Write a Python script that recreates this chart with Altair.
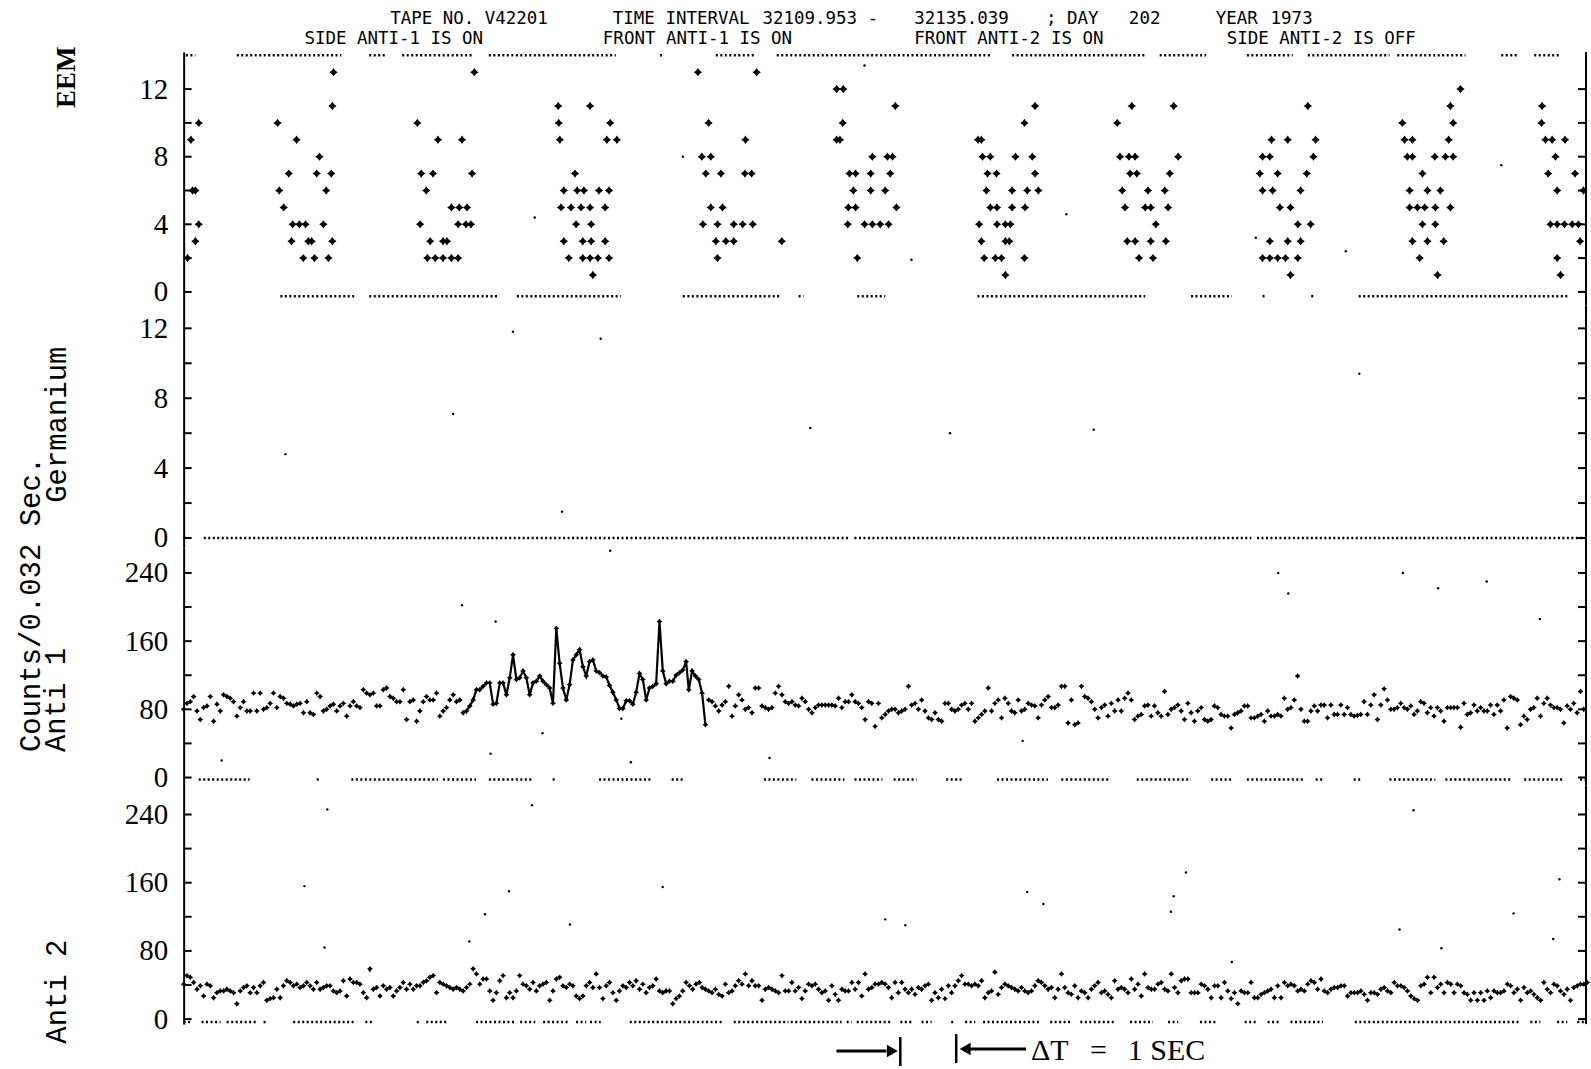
import altair as alt
import pandas as pd

# ---------------- data ----------------
T_END = 25.086          # seconds shown (32109.953 -> 32135.039)
DT = 0.05952            # spacing of plotted count samples, s

# EEM pulse-height events (time offset s, channel)
eem_t = [0.27, 0.13, 0.16, 0.21, 0.27, 0.21, 0.07,
         2.68, 2.66, 1.68, 2.02, 2.43, 1.88, 2.38, 2.64, 1.71, 2.55, 1.79, 1.95, 2.07, 2.18, 2.50, 1.93, 2.23, 2.29, 2.66, 2.14, 2.34, 2.59,
         5.20, 4.18, 4.55, 4.98, 4.25, 4.46, 5.16, 4.34, 4.79, 4.93, 5.07, 4.23, 4.91, 5.05, 5.14, 4.41, 4.64, 4.71, 4.36, 4.50, 4.64, 4.79, 4.91,
         6.70, 7.27, 6.71, 7.63, 6.73, 7.57, 7.75, 7.00, 6.80, 7.04, 7.16, 7.43, 7.61, 6.75, 6.93, 7.11, 7.27, 7.54, 7.02, 7.29, 6.80, 7.14, 7.29, 7.54, 6.89, 7.14, 7.27, 7.41, 7.61, 7.32,
         9.20, 10.25, 9.39, 10.05, 9.27, 9.43, 9.34, 9.61, 10.04, 10.16, 9.43, 9.64, 9.29, 9.55, 9.84, 10.00, 10.18, 9.52, 9.70, 9.84, 9.55, 10.70,
         11.68, 11.80, 12.73, 11.79, 11.68, 11.74, 12.32, 12.59, 12.68, 11.91, 12.02, 12.29, 12.64, 11.98, 12.29, 12.55, 11.89, 12.02, 12.75, 11.88, 12.18, 12.32, 12.46, 12.61, 12.05,
         15.23, 15.04, 14.21, 14.27, 14.29, 14.43, 14.88, 15.18, 14.38, 14.54, 15.23, 14.36, 14.82, 15.09, 15.29, 14.43, 14.55, 14.82, 15.05, 14.23, 14.55, 14.70, 14.79, 14.27, 14.70, 14.77, 14.32, 14.52, 14.63, 15.04, 14.70,
         16.96, 17.71, 16.70, 16.75, 16.91, 17.02, 17.79, 16.93, 17.05, 17.64, 16.79, 17.25, 17.55, 16.84, 17.20, 17.30, 17.61, 17.39, 16.88, 17.02, 17.30, 17.57, 17.09, 17.34,
         20.11, 19.46, 19.75, 20.25, 19.30, 19.43, 20.21, 19.25, 19.57, 20.09, 19.30, 19.48, 19.98, 19.61, 19.80, 19.93, 20.16, 19.43, 19.75, 19.98, 19.30, 19.43, 19.57, 19.71, 19.93, 19.80,
         22.84, 22.66, 21.80, 22.71, 21.84, 21.98, 22.63, 21.89, 21.98, 22.38, 22.57, 22.71, 22.16, 21.93, 22.25, 22.48, 21.93, 22.07, 22.20, 22.39, 22.66, 22.16, 22.39, 21.98, 22.25, 22.54, 22.11, 22.43,
         24.30, 24.29, 24.36, 24.48, 24.71, 24.54, 24.41, 24.89, 24.57, 25.04, 24.45, 24.57, 24.70, 24.84, 24.95, 24.98, 24.57, 24.63]
eem_v = [10, 9, 6, 6, 4, 3, 2,
         13, 11, 10, 9, 8, 7, 7, 7, 6, 6, 5, 4, 4, 4, 4, 3, 3, 3, 3, 2, 2, 2,
         13, 10, 9, 9, 7, 7, 7, 6, 5, 5, 5, 4, 4, 4, 4, 3, 3, 3, 2, 2, 2, 2, 2,
         11, 11, 10, 10, 9, 9, 9, 7, 6, 6, 6, 6, 6, 5, 5, 5, 5, 5, 4, 4, 3, 3, 3, 3, 2, 2, 2, 2, 2, 1,
         13, 13, 10, 9, 8, 8, 7, 7, 7, 7, 5, 5, 4, 4, 4, 4, 4, 3, 3, 3, 2, 3,
         12, 12, 11, 10, 9, 9, 8, 8, 8, 7, 7, 7, 7, 6, 6, 6, 5, 5, 5, 4, 4, 4, 4, 4, 2,
         11, 10, 9, 9, 8, 8, 8, 8, 7, 7, 7, 6, 6, 6, 6, 5, 5, 5, 5, 4, 4, 4, 4, 3, 3, 3, 2, 2, 2, 2, 1,
         11, 11, 10, 8, 8, 8, 8, 7, 7, 7, 6, 6, 6, 5, 5, 5, 5, 4, 3, 3, 3, 3, 2, 2,
         11, 9, 9, 9, 8, 8, 8, 7, 7, 7, 6, 6, 6, 5, 5, 4, 4, 3, 3, 3, 2, 2, 2, 2, 2, 1,
         12, 11, 10, 10, 9, 9, 9, 8, 8, 8, 8, 8, 7, 6, 6, 6, 5, 5, 5, 5, 5, 4, 4, 3, 3, 3, 2, 1,
         11, 10, 9, 9, 9, 8, 7, 7, 6, 6, 4, 4, 4, 4, 4, 3, 2, 1]
eem_stray_t = [6.28, 15.79, 23.57, 13.02, 19.18, 8.93, 12.18, 20.79]
eem_stray_v = [4.4, 4.6, 7.5, 1.9, 3.2, 8.0, 13.4, 2.4]
eem_top_level = 14.0
eem_top_runs = [[0.04, 0.21], [0.95, 2.82], [3.32, 3.64], [3.91, 5.18], [5.46, 7.73], [8.52, 8.60],
                [9.52, 10.20], [10.61, 14.46], [14.82, 17.20], [17.46, 18.29], [19.02, 19.84],
                [20.11, 21.57], [21.71, 22.93], [23.57, 23.86], [24.16, 24.63]]
eem_zero_level = -0.25
eem_zero_runs = [[1.73, 3.05], [3.32, 5.64], [5.96, 7.82], [8.93, 10.66], [11.0, 11.09], [12.05, 12.55],
                 [14.20, 17.20], [18.02, 18.75], [19.30, 19.38], [20.17, 20.25], [21.02, 24.77]]

# Germanium
ge_stray_t = [5.89, 7.46, 4.82, 1.82, 11.21, 13.71, 16.28, 21.03, 6.77]
ge_stray_v = [11.8, 11.4, 7.1, 4.8, 6.3, 6.0, 6.2, 9.4, 1.5]
ge_zero_level = 0.0
ge_zero_runs = [[0.0, 0.08], [0.36, 11.9], [12.0, 19.1], [19.2, 25.08]]

# Anti 1 counts, four stretches (start time of each stretch, values)
anti1_starts = [0.0, 7.5, 9.036, 17.07]
anti1_a = [80, 87, 89, 95, 78, 68, 82, 84, 95, 66, 86, 78, 97, 95, 93, 89, 72, 82, 89, 78,
           78, 99, 78, 99, 80, 82, 87, 99, 82, 95, 93, 87, 86, 84, 86, 87, 76, 89, 76, 74,
           99, 95, 78, 80, 84, 86, 78, 84, 87, 72, 84, 89, 84, 82, 103, 99, 97, 99, 84, 84,
           103, 105, 95, 93, 89, 89, 103, 68, 89, 91, 66, 78, 89, 95, 91, 91, 99, 72, 78, 82,
           91, 97, 89, 91, 76, 78, 84, 91, 103, 103, 107, 111, 111, 86, 87, 111, 111, 97, 117, 144,
           115, 117, 125, 117, 97, 111, 113, 119, 113, 109, 105, 87, 175, 134, 105, 91, 109, 138, 144, 150,
           130, 119, 136, 138, 125, 123]
anti1_b = [119, 118, 108, 100, 91, 81, 81, 90, 90, 86, 100, 122, 115, 91, 105, 107, 110, 183, 125, 110,
           113, 113, 120, 123, 126, 136]
anti1_c = [103, 125, 119, 115, 99, 62, 91, 89, 84, 78, 85, 89, 107, 72, 84, 97, 91, 80, 82, 76,
           105, 105, 84, 82, 80, 82, 99, 107, 97, 89, 87, 89, 85, 84, 93, 89, 80, 76, 82, 85,
           85, 85, 85, 85, 84, 93, 82, 89, 89, 97, 89, 87, 82, 68, 89, 87, 60, 87, 70, 74,
           78, 80, 80, 76, 78, 80, 107, 85, 87, 80, 91, 78, 70, 68, 76, 68, 66, 87, 87, 80,
           78, 80, 85, 87, 80, 87, 66, 70, 74, 78, 105, 78, 87, 91, 70, 93, 87, 78, 76, 91,
           78, 80, 87, 85, 84, 70, 85, 91, 95, 82, 82, 85, 107, 107, 64, 91, 62, 64, 107, 95,
           93, 89, 80, 70, 82, 85, 72, 87, 78, 91, 78, 93, 99, 91, 68]
anti1_d = [72, 74, 84, 85, 72, 84, 76, 72, 101, 74, 80, 82, 85, 78, 68, 87, 76, 66, 78, 82,
           68, 66, 68, 84, 82, 74, 72, 72, 58, 74, 76, 78, 84, 84, 70, 70, 72, 74, 66, 78,
           72, 72, 74, 72, 93, 80, 82, 91, 119, 80, 66, 66, 78, 84, 78, 85, 85, 70, 85, 74,
           74, 85, 74, 82, 74, 72, 73, 74, 89, 74, 85, 97, 68, 85, 104, 91, 80, 80, 82, 87,
           82, 80, 84, 74, 78, 89, 87, 76, 82, 72, 82, 78, 66, 82, 82, 82, 82, 59, 87, 74,
           76, 85, 78, 82, 78, 78, 85, 74, 85, 78, 91, 58, 95, 93, 91, 62, 72, 68, 80, 82,
           93, 72, 87, 93, 85, 82, 82, 80, 64, 84, 80, 87, 76, 101, 80]
anti1_line_span = [5.03, 9.36]
anti1_stray_t = [0.68, 4.98, 5.58, 5.49, 6.42, 7.83, 8.00, 10.48, 15.01, 19.58, 19.76, 21.81, 22.44, 23.31, 24.26, 7.63]
anti1_stray_v = [20, 202, 183, 28, 52, 69, 18, 23, 43, 240, 216, 240, 222, 230, 186, 266]
a1_zero_level = -2.3
a1_zero_runs = [[0.27, 1.18], [2.38, 2.45], [3.0, 4.55], [4.64, 5.23], [5.46, 6.23], [6.60, 6.68],
                [7.43, 8.38], [8.73, 8.93], [10.38, 10.96], [11.23, 11.82], [12.0, 12.5], [12.7, 13.11],
                [13.64, 13.96], [14.55, 15.46], [15.7, 16.55], [17.05, 18.02], [18.38, 18.75],
                [19.02, 20.02], [20.25, 20.39], [20.93, 21.07], [21.57, 22.39], [22.57, 23.75],
                [23.98, 24.68], [24.98, 25.08]]

# Anti 2 counts, three stretches
anti2_starts = [0.0, 9.274, 17.25]
anti2_a = [41, 51, 49, 43, 35, 39, 27, 41, 39, 25, 31, 33, 33, 35, 33, 31, 18, 33, 37, 39,
           31, 37, 31, 39, 43, 22, 24, 25, 35, 25, 39, 45, 43, 39, 41, 37, 39, 43, 39, 35,
           43, 35, 37, 39, 39, 33, 31, 33, 45, 27, 47, 43, 43, 41, 31, 25, 59, 35, 37, 27,
           39, 35, 37, 27, 33, 37, 43, 35, 41, 35, 39, 39, 43, 45, 49, 51, 31, 43, 41, 39,
           37, 35, 37, 35, 33, 37, 41, 59, 53, 41, 47, 47, 33, 22, 31, 45, 51, 25, 31, 25,
           33, 51, 41, 39, 35, 43, 33, 39, 41, 43, 22, 33, 47, 49, 39, 37, 41, 39, 27, 24,
           27, 39, 43, 37, 53, 37, 24, 39, 43, 31, 22, 33, 39, 37, 43, 39, 45, 35, 41, 31,
           37, 39, 47, 33, 31, 33, 33, 18, 24, 27, 33, 43, 39, 35, 41, 43]
anti2_b = [37, 35, 33, 31, 35, 29, 27, 41, 31, 33, 39, 45, 41, 53, 39, 45, 39, 39, 22, 35,
           37, 35, 33, 31, 51, 33, 33, 43, 33, 37, 24, 33, 41, 39, 41, 35, 31, 33, 22, 39,
           29, 22, 35, 33, 33, 43, 35, 43, 27, 53, 35, 37, 41, 41, 43, 41, 37, 25, 43, 31,
           43, 35, 31, 35, 29, 37, 35, 39, 41, 22, 31, 25, 35, 24, 39, 31, 39, 45, 51, 41,
           41, 39, 41, 39, 45, 25, 31, 33, 55, 29, 37, 41, 39, 37, 35, 33, 37, 33, 31, 33,
           39, 45, 43, 39, 35, 37, 25, 35, 53, 37, 31, 29, 39, 25, 33, 31, 25, 35, 39, 43,
           31, 33, 29, 25, 45, 35, 37, 35, 31, 47, 35, 41, 27, 53]
anti2_c = [37, 35, 35, 41, 43, 35, 33, 53, 37, 31, 45, 47, 47, 31, 31, 31, 41, 39, 35, 25,
           39, 39, 25, 43, 33, 24, 31, 18, 33, 31, 31, 43, 25, 25, 29, 31, 33, 35, 25, 39,
           25, 43, 39, 41, 39, 33, 35, 33, 41, 45, 43, 35, 47, 33, 31, 35, 37, 37, 39, 39,
           27, 31, 31, 31, 33, 29, 22, 31, 31, 29, 35, 37, 33, 31, 43, 39, 39, 37, 33, 27,
           24, 22, 39, 41, 49, 31, 49, 37, 41, 31, 43, 41, 31, 41, 39, 31, 29, 22, 31, 22,
           31, 22, 33, 25, 33, 31, 31, 33, 41, 39, 31, 35, 22, 37, 31, 33, 29, 25, 22, 43,
           35, 31, 41, 39, 33, 29, 35, 22, 37, 39, 41, 41, 43]
anti2_stray_t = [2.57, 6.23, 2.16, 5.82, 8.57, 5.39, 6.91, 5.11, 2.52, 3.33, 22.0, 17.93, 17.71, 17.66,
                 15.09, 15.38, 12.55, 12.91, 18.75, 24.61, 23.79, 24.5, 21.75, 22.5]
anti2_stray_v = [246, 251, 156, 150, 155, 123, 111, 91, 84, 57, 245, 172, 144, 126,
                 149, 135, 117, 110, 67, 164, 124, 94, 105, 83]
a2_zero_level = -3.5
a2_zero_runs = [[0.0, 0.13], [0.32, 0.66], [0.77, 1.30], [1.43, 1.49], [1.96, 3.04], [3.25, 3.39],
                [4.17, 4.23], [4.34, 4.70], [5.23, 5.95], [6.02, 6.29], [6.43, 6.91], [7.02, 7.20],
                [7.27, 7.46], [7.98, 9.66], [9.84, 10.82], [10.86, 11.77], [11.86, 11.95], [12.04, 12.66],
                [12.82, 13.02], [13.20, 13.38], [13.73, 13.80], [13.98, 14.16], [14.30, 15.34],
                [15.50, 15.88], [16.04, 16.66], [16.93, 17.34], [17.61, 17.79], [18.18, 18.50],
                [18.98, 19.21], [19.39, 19.63], [19.80, 20.38], [20.95, 23.91], [24.09, 24.27],
                [24.57, 24.75], [24.93, 25.08]]

# texts
header_line1 = ["TAPE NO.  V42201", "TIME INTERVAL", "32109.953 -", "32135.039", "; DAY", "202", "YEAR", "1973"]
header_line2 = ["SIDE ANTI-1 IS ON", "FRONT ANTI-1 IS ON", "FRONT ANTI-2 IS ON", "SIDE ANTI-2 IS OFF"]

# ---------------- styling / layout ----------------
W = 1405
STAR = "M0,-1L0.42,-0.42L1,0L0.42,0.42L0,1L-0.42,0.42L-1,0L-0.42,-0.42Z"
MONO = "DejaVu Sans Mono"
SERIF = "Liberation Serif"
TMONO = "Liberation Mono"


def series_df(starts, segs):
    rows = []
    for s0, seg in zip(starts, segs):
        for i, val in enumerate(seg):
            rows.append({"t": s0 + i * DT, "v": val})
    return pd.DataFrame(rows)


def runs_df(runs, level):
    return pd.DataFrame({"t": [r[0] for r in runs], "t2": [r[1] for r in runs], "v": [level] * len(runs)})


def one():
    return pd.DataFrame({"d": [0]})


def text_at(txt, x, y, font, size, weight="normal", align="left"):
    return alt.Chart(pd.DataFrame({"s": [txt]})).mark_text(
        align=align, baseline="alphabetic", font=font, fontSize=size,
        fontWeight=weight, color="black").encode(x=alt.value(x), y=alt.value(y), text="s:N")


def panel(h, dom, labels, ticks, title, tkw, pts=None, pt_size=30, runs=None, strays=None,
          line=None, extra=()):
    xs = alt.Scale(domain=[0, T_END], nice=False, zero=False)
    ys = alt.Scale(domain=dom, nice=False, zero=False)
    axis = alt.Axis(values=labels, ticks=False, tickSize=0, grid=False, domain=True,
                    domainColor="black", domainWidth=2, labelFont=SERIF, labelFontSize=29,
                    labelColor="black", labelPadding=16, labelOverlap=False, labelFlush=False,
                    format="d", title=title, titleColor="black", **tkw)
    X = alt.X("t:Q", scale=xs, axis=None)
    Y = alt.Y("v:Q", scale=ys, axis=axis)
    tdf = pd.DataFrame({"v": ticks})
    layers = [
        alt.Chart(tdf).mark_rule(color="black", strokeWidth=2).encode(
            y=Y, x=alt.value(0), x2=alt.value(8)),
        alt.Chart(tdf).mark_rule(color="black", strokeWidth=2).encode(
            y=Y, x=alt.value(W - 8), x2=alt.value(W)),
        alt.Chart(one()).mark_rule(color="black", strokeWidth=2).encode(
            x=alt.value(W), y=alt.value(0), y2=alt.value(h)),
    ]
    if runs is not None:
        layers.append(alt.Chart(runs).mark_rule(color="black", strokeWidth=2.5, strokeDash=[2, 2.5]).encode(
            x=X, x2="t2:Q", y=Y))
    if line is not None:
        layers.append(alt.Chart(line).mark_line(color="black", strokeWidth=2.2).encode(x=X, y=Y))
    if pts is not None:
        layers.append(alt.Chart(pts).mark_point(shape=STAR, filled=True, size=pt_size,
                                                color="black", opacity=1).encode(x=X, y=Y))
    if strays is not None:
        layers.append(alt.Chart(strays).mark_point(shape="circle", filled=True, size=6,
                                                   color="black", opacity=1).encode(x=X, y=Y))
    layers.extend(extra)
    return alt.layer(*layers).properties(width=W, height=h)


# ---------------- panels ----------------
eem_pts = pd.DataFrame({"t": eem_t, "v": eem_v})
eem_runs = pd.concat([runs_df(eem_top_runs, eem_top_level), runs_df(eem_zero_runs, eem_zero_level)])
eem_str = pd.DataFrame({"t": eem_stray_t, "v": eem_stray_v})

header = [alt.Chart(one()).mark_rule(opacity=0, strokeWidth=1).encode(
    x=alt.value(-184), x2=alt.value(W + 2), y=alt.value(-51))]
x1 = [391, 614, 764, 916, 1048, 1131, 1218, 1273]
x2 = [305, 604, 916, 1229]
for s, x in zip(header_line1, x1):
    header.append(text_at(s, x - 184, -28, MONO, 17.5))
for s, x in zip(header_line2, x2):
    header.append(text_at(s, x - 184, -8, MONO, 17.5))

p_eem = panel(254, [-0.8, 14.2], [0, 4, 8, 12], [0, 2, 4, 6, 8, 10, 12], "EEM",
              dict(titleFont=SERIF, titleFontSize=27, titleFontWeight="bold", titleAngle=270,
                   titleAlign="center", titleBaseline="top", titleX=-130, titleY=25),
              pts=eem_pts, pt_size=70, runs=eem_runs, strays=eem_str, extra=header)

p_ge = panel(243, [-0.57, 13.31], [0, 4, 8, 12], [0, 2, 4, 6, 8, 10, 12], "Germanium",
             dict(titleFont=TMONO, titleFontSize=29, titleFontWeight="normal", titleAngle=270,
                  titleAlign="center", titleBaseline="top", titleX=-141, titleY=119),
             runs=runs_df(ge_zero_runs, ge_zero_level),
             strays=pd.DataFrame({"t": ge_stray_t, "v": ge_stray_v}))

a1 = series_df(anti1_starts, [anti1_a, anti1_b, anti1_c, anti1_d])
a1_line = a1[(a1.t >= anti1_line_span[0]) & (a1.t <= anti1_line_span[1])]
p_a1 = panel(238, [-9.4, 269.3], [0, 80, 160, 240], [0, 40, 80, 120, 160, 200, 240],
             ["Counts/0.032 Sec.", "Anti 1"],
             dict(titleFont=TMONO, titleFontSize=29, titleFontWeight="normal", titleAngle=270,
                  titleAlign="left", titleBaseline="top", titleX=-167, titleY=204, titleLineHeight=25),
             pts=a1, pt_size=34, runs=runs_df(a1_zero_runs, a1_zero_level),
             strays=pd.DataFrame({"t": anti1_stray_t, "v": anti1_stray_v}), line=a1_line)

a2 = series_df(anti2_starts, [anti2_a, anti2_b, anti2_c])
foot = [
    alt.Chart(one()).mark_rule(opacity=0, strokeWidth=1).encode(
        x=alt.value(0), x2=alt.value(1), y=alt.value(283)),
    alt.Chart(one()).mark_rule(color="black", strokeWidth=3).encode(
        x=alt.value(654), x2=alt.value(704), y=alt.value(266)),
    alt.Chart(one()).mark_point(shape="triangle-right", filled=True, size=160, color="black", opacity=1).encode(
        x=alt.value(710), y=alt.value(266)),
    alt.Chart(one()).mark_rule(color="black", strokeWidth=2.5).encode(
        x=alt.value(718), y=alt.value(252), y2=alt.value(281)),
    alt.Chart(one()).mark_rule(color="black", strokeWidth=2.5).encode(
        x=alt.value(774), y=alt.value(249), y2=alt.value(278)),
    alt.Chart(one()).mark_point(shape="triangle-left", filled=True, size=160, color="black", opacity=1).encode(
        x=alt.value(783), y=alt.value(264)),
    alt.Chart(one()).mark_rule(color="black", strokeWidth=3).encode(
        x=alt.value(788), x2=alt.value(844), y=alt.value(264)),
    text_at("\u0394T", 849, 275, SERIF, 30),
    text_at("=", 908, 275, SERIF, 30),
    text_at("1 SEC", 946, 275, SERIF, 30),
]
p_a2 = panel(239, [-5.85, 274.0], [0, 80, 160, 240], [0, 40, 80, 120, 160, 200, 240], "Anti 2",
             dict(titleFont=TMONO, titleFontSize=29, titleFontWeight="normal", titleAngle=270,
                  titleAlign="center", titleBaseline="top", titleX=-141, titleY=206),
             pts=a2, pt_size=34, runs=runs_df(a2_zero_runs, a2_zero_level),
             strays=pd.DataFrame({"t": anti2_stray_t, "v": anti2_stray_v}), extra=foot)

chart = alt.vconcat(p_eem, p_ge, p_a1, p_a2, spacing=0, bounds="flush").resolve_scale(
    x="shared", y="independent").properties(padding=0, background="white").configure_view(stroke=None)

chart.save("out.html", embed_options={"renderer": "svg", "actions": False})
